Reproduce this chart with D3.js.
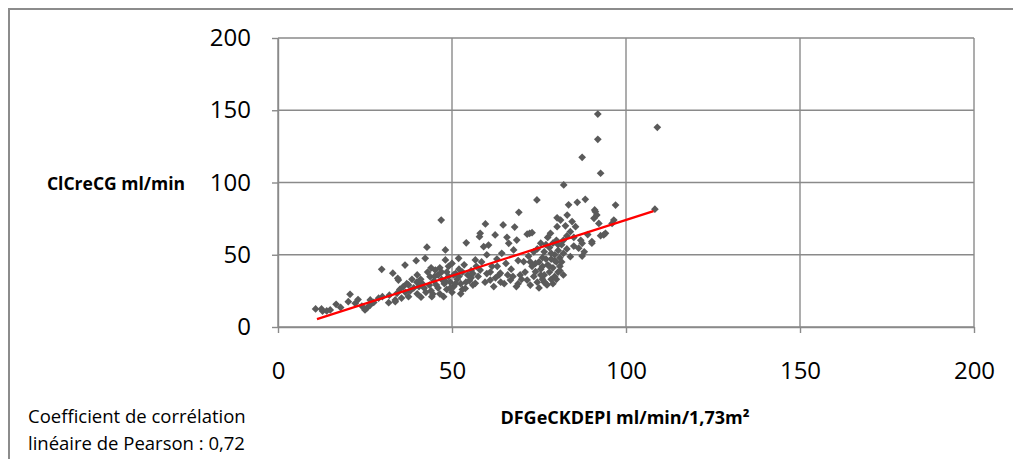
<!DOCTYPE html>
<html>
<head>
<meta charset="utf-8">
<script src="https://cdn.jsdelivr.net/npm/d3@7"></script>
<style>
  body { margin: 0; background: #fff; }
  svg { display: block; }
</style>
</head>
<body>
<svg id="chart" width="1013" height="459"></svg>
<script>
// DFGeCKDEPI values (x) and ClCreCG values (y)
var dfgValues = [
  10.8,12.5,12.8,14,15,16.7,18,20.2,20.7,22.2,23,24.1,25,25.5,26.5,26.5,27.5,28.9,29.8,30,
  31.8,32,33,33.7,33.7,34.2,34.4,34.6,35,35.5,36,36.5,36.6,37,37.5,37.5,38,38.5,39,39.7,39.9,40,40,
  41.1,41.5,42,42.3,42.8,43,43.7,44,44.2,44.5,44.8,45.2,45.5,46,46,46.5,46.9,47,47.6,47.8,48.1,48.1,48.5,48.5,49,49,49.5,50,50,50.5,
  51,51.5,51.9,52,52.5,53,53.5,53.8,54.1,54.5,55,55.5,56,56.7,56.7,57,57.5,57.9,58.1,58.1,58.5,59.1,59.5,59.6,60,60,
  60.5,61,61.5,62,62.4,62.9,63.5,63.9,64.3,64.7,65,65.5,65.8,66.3,66.8,67,67.7,68,68.5,68.6,69,69.2,69.6,70,70.6,
  71,71.6,71.6,72,72.3,72.5,73,73,73.5,74,74.4,74.5,74.5,75,75,75.5,75.5,76,76,76.5,76.5,77,77.3,77.5,77.5,78,78,78.3,78.5,78.5,
  79,79,79.5,79.5,80,80,80.2,80.2,80.5,80.5,81,81,81.2,81.5,82,82,82.1,
  82.6,83,83.1,83.5,84,84,84.5,85,85.5,86,86.4,87,87.4,87.4,87.4,88,88.3,89,90.2,90.2,90.8,91,91.2,91.6,91.9,91.9,92.2,92.7,92.7,93.6,94.1,96,96.5,97,
  108.3,109,
  40.5,41,42.5,43.5,44,45,46.5,47,48,49.5,50.5,51,52,52.5,53,54,55.5,56,
  61,62.5,63,64,66,67.5,69,
  72.5,73.5,74,75.5,76,76.5,77,77,78,78.5,79,79.5,80,80.5,81,81.5,82,83,85
];
var clcreValues = [
  12.5,12.5,11,11.1,11.8,15.7,13.5,17.5,22.6,16.4,19,14.5,11.8,13,15.2,18.7,17,19.9,39.9,21,
  16.8,22,37.2,17.5,18.7,23.3,33.7,32.5,26,20,28,42.9,24,30,29.1,21,25,33,27,45.9,31,23,36,
  20.6,30,27,47.5,55.2,38,34.8,25,21,22.8,32,39.4,29,36,27,41,74,33,21,30,53.3,46.4,38,26,42,35,31,24,44,28,
  37,33,47.5,40,30,26,43,26.7,58.3,36,32,39,29,46.4,30.2,42,35,62.5,39.4,64.8,45,55.6,31,71.3,37,50,
  56.7,32.5,42,28,63.7,47,36,37.2,51,70.6,30,44,62.1,57.9,32.5,40,53.3,69.2,28,60.2,46,79.4,36,33,45.2,
  38,32.5,64.2,49,64.8,29,65.3,42,35,38.3,87.9,31,54,45,27,40,58,33,48,36,52,30,29.1,43,62,38,55,64.8,33,47,
  41,58,35,50,45,60,69.4,75.6,38,53,42,48,74,57,36,51,98.3,
  70,63,77.5,84.6,66,48.7,73,56,69.4,86.3,54.5,60,57.9,49.1,117.4,52,88.4,64,59.1,58,75.2,81,79.8,77.5,129.9,147.4,71.7,106.4,63.2,63.7,64.8,71.7,74,84.4,
  81.5,138.2,
  28,33,24,29,41,35,23,38,32,27,36,30,35,23,38,31,34,37,
  38,34,42,31,36,35,30,
  45,52,44,36,42,31,47,57,42,51,30,46,33,57,39,45,60,54,62
];
var tickValues = [0, 50, 100, 150, 200];
// trend line
var trendSlope = 0.773, trendIntercept = -3.2, trendRange = [11.2, 107.9];

var svg = d3.select("#chart");
var gridColor = "#8a8a8a";
var font = "Open Sans, sans-serif";

// outer frame (runs past the right and bottom edges)
svg.append("rect")
  .attr("x", 9).attr("y", 9)
  .attr("width", 1100).attr("height", 500)
  .attr("fill", "none")
  .attr("stroke", "#8c8c8c")
  .attr("stroke-width", 2);

var x = d3.scaleLinear().domain([0, 200]).range([278, 974]);
var y = d3.scaleLinear().domain([0, 200]).range([327, 38]);

// gridlines
svg.append("g").selectAll("line")
  .data(tickValues)
  .enter().append("line")
    .attr("x1", x(0)).attr("x2", x(200))
    .attr("y1", d => y(d)).attr("y2", d => y(d))
    .attr("stroke", gridColor).attr("stroke-width", 1.4);

svg.append("g").selectAll("line")
  .data(tickValues)
  .enter().append("line")
    .attr("x1", d => x(d)).attr("x2", d => x(d))
    .attr("y1", y(0)).attr("y2", y(200))
    .attr("stroke", gridColor).attr("stroke-width", 1.4);

// axes
var yAxis = svg.append("g")
  .attr("transform", `translate(${x(0)},0)`)
  .call(d3.axisLeft(y).tickValues(tickValues).tickSize(6).tickSizeOuter(0).tickPadding(21));
var xAxis = svg.append("g")
  .attr("transform", `translate(0,${y(0)})`)
  .call(d3.axisBottom(x).tickValues(tickValues).tickSize(6).tickSizeOuter(0).tickPadding(29));

[yAxis, xAxis].forEach(function(a) {
  a.select(".domain").attr("stroke", gridColor).attr("stroke-width", 1.4);
  a.selectAll(".tick line").attr("stroke", gridColor).attr("stroke-width", 1.4);
  a.selectAll(".tick text")
    .attr("fill", "#000")
    .style("font", `24px ${font}`);
});

// points
var points = dfgValues.map((d, i) => [d, clcreValues[i]]);
svg.append("g")
  .selectAll("path")
  .data(points)
  .enter().append("path")
    .attr("transform", d => `translate(${x(d[0])},${y(d[1])}) rotate(45)`)
    .attr("d", d3.symbol(d3.symbolSquare, 30))
    .attr("fill", "#5a5a5a");

// trend line
svg.append("line")
  .attr("x1", x(trendRange[0]))
  .attr("y1", y(trendSlope * trendRange[0] + trendIntercept))
  .attr("x2", x(trendRange[1]))
  .attr("y2", y(trendSlope * trendRange[1] + trendIntercept))
  .attr("stroke", "#ff0000")
  .attr("stroke-width", 2.3);

// titles
svg.append("text")
  .attr("x", 116).attr("y", 190)
  .attr("text-anchor", "middle")
  .style("font", `bold 17.5px ${font}`)
  .text("ClCreCG ml/min");

svg.append("text")
  .attr("x", 625).attr("y", 424)
  .attr("text-anchor", "middle")
  .style("font", `bold 18px ${font}`)
  .text("DFGeCKDEPI ml/min/1,73m²");

svg.append("text")
  .attr("x", 28).attr("y", 423)
  .style("font", `18.5px ${font}`)
  .text("Coefficient de corrélation");
svg.append("text")
  .attr("x", 28).attr("y", 450)
  .style("font", `18.5px ${font}`)
  .text("linéaire de Pearson : 0,72");
</script>
</body>
</html>
